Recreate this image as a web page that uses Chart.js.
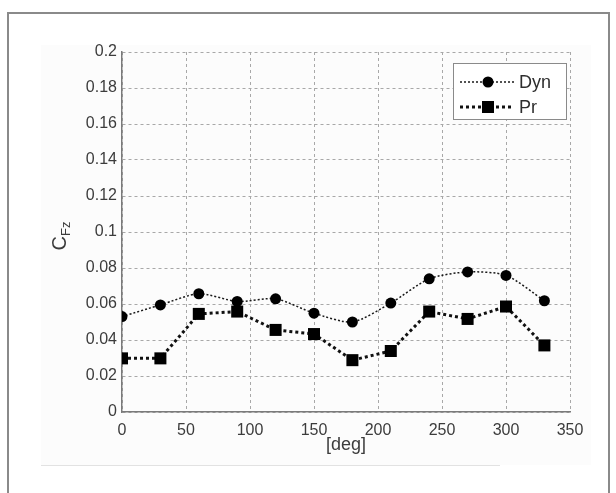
<!DOCTYPE html>
<html><head><meta charset="utf-8">
<script src="https://cdn.jsdelivr.net/npm/chart.js@4/dist/chart.umd.min.js"></script>
<style>html,body{margin:0;padding:0;background:#fff;}canvas{display:block;}</style>
</head><body>
<canvas id="c" width="616" height="493"></canvas>
<script>
const angles = [0, 30, 60, 90, 120, 150, 180, 210, 240, 270, 300, 330];
const dynValues = [0.053, 0.0595, 0.0657, 0.0614, 0.0629, 0.0549, 0.050, 0.0605, 0.074, 0.0778, 0.0759, 0.0618];
const prValues  = [0.0298, 0.0298, 0.0545, 0.0558, 0.0456, 0.0433, 0.0288, 0.0339, 0.0558, 0.0517, 0.0586, 0.037];
const xTicks = [0, 50, 100, 150, 200, 250, 300, 350];
const yTicks = [0, 0.02, 0.04, 0.06, 0.08, 0.1, 0.12, 0.14, 0.16, 0.18, 0.2];
const seriesNames = ['Dyn', 'Pr'];

const FONT = 'Liberation Sans, Arial, sans-serif';
const TXT = '#3c3c3c';

const decor = {
  id: 'decor',
  beforeDraw(chart) {
    const ctx = chart.ctx;
    ctx.save();
    ctx.fillStyle = '#fcfcfc';
    ctx.fillRect(41, 45, 550, 420);
    ctx.strokeStyle = '#e2e2e2';
    ctx.lineWidth = 1;
    ctx.beginPath(); ctx.moveTo(41, 465.5); ctx.lineTo(500, 465.5); ctx.stroke();
    ctx.strokeStyle = '#8a8a8a';
    ctx.lineWidth = 2;
    ctx.beginPath();
    ctx.moveTo(8, 493); ctx.lineTo(8, 13); ctx.lineTo(609, 13); ctx.lineTo(609, 493);
    ctx.stroke();
    ctx.restore();
  },
  afterDraw(chart) {
    const ctx = chart.ctx;
    const a = chart.chartArea;
    ctx.save();
    ctx.fillStyle = TXT;
    ctx.font = '18px ' + FONT;
    ctx.textAlign = 'center';
    ctx.textBaseline = 'middle';
    ctx.fillText('[deg]', (a.left + a.right) / 2, 445);
    ctx.translate(59, 236);
    ctx.rotate(-Math.PI / 2);
    ctx.textAlign = 'left';
    ctx.textBaseline = 'alphabetic';
    ctx.font = '20px ' + FONT;
    const wC = ctx.measureText('C').width;
    const sub = 'Fz';
    ctx.font = '13px ' + FONT;
    const wS = ctx.measureText(sub).width;
    const tot = wC + wS;
    ctx.font = '20px ' + FONT;
    ctx.fillText('C', -tot / 2, 7);
    ctx.font = '13px ' + FONT;
    ctx.fillText(sub, -tot / 2 + wC, 11);
    ctx.setTransform(1, 0, 0, 1, 0, 0);
    const bx = 453.5, by = 63.5, bw = 113, bh = 56;
    ctx.fillStyle = '#ffffff';
    ctx.fillRect(bx, by, bw, bh);
    ctx.strokeStyle = '#8a8a8a';
    ctx.lineWidth = 1;
    ctx.setLineDash([]);
    ctx.strokeRect(bx, by, bw, bh);
    const rows = [82, 107];
    chart.data.datasets.forEach((ds, i) => {
      const y = rows[i];
      ctx.strokeStyle = ds.borderColor;
      ctx.lineWidth = ds.borderWidth;
      ctx.setLineDash(ds.borderDash);
      ctx.beginPath(); ctx.moveTo(460, y); ctx.lineTo(514, y); ctx.stroke();
      ctx.setLineDash([]);
      ctx.fillStyle = ds.pointBackgroundColor;
      if (ds.pointStyle === 'circle') {
        ctx.beginPath(); ctx.arc(488, y, 5.5, 0, Math.PI * 2); ctx.fill();
      } else {
        ctx.fillRect(482, y - 6, 12, 12);
      }
      ctx.fillStyle = '#2e2e2e';
      ctx.font = '18px ' + FONT;
      ctx.textAlign = 'left';
      ctx.textBaseline = 'middle';
      ctx.fillText(ds.label, 519, y + 1);
    });
    ctx.restore();
  }
};

new Chart(document.getElementById('c'), {
  type: 'line',
  data: {
    datasets: [
      {
        label: seriesNames[0],
        data: angles.map((x, i) => ({ x, y: dynValues[i] })),
        borderColor: '#1a1a1a',
        borderWidth: 1.5,
        borderDash: [2, 2],
        pointStyle: 'circle',
        pointRadius: 5.5,
        pointBackgroundColor: '#000',
        pointBorderColor: '#000',
        pointBorderWidth: 0,
        tension: 0.25
      },
      {
        label: seriesNames[1],
        data: angles.map((x, i) => ({ x, y: prValues[i] })),
        borderColor: '#111',
        borderWidth: 3,
        borderDash: [3, 3],
        pointStyle: 'rect',
        pointRadius: 8.5,
        pointBackgroundColor: '#000',
        pointBorderColor: '#000',
        pointBorderWidth: 0,
        tension: 0
      }
    ]
  },
  options: {
    responsive: false,
    animation: false,
    devicePixelRatio: 1,
    layout: { padding: { left: 0, right: 46, top: 52, bottom: 0 } },
    plugins: { legend: { display: false }, tooltip: { enabled: false } },
    scales: {
      x: {
        type: 'linear',
        min: 0, max: 350,
        afterBuildTicks(s) { s.ticks = xTicks.map(v => ({ value: v })); },
        afterFit(s) { s.height = 81; },
        grid: { color: '#a8a8a8', lineWidth: 1, drawTicks: false },
        border: { display: true, color: '#7a7a7a', width: 1.5, dash: [3, 3] },
        ticks: { color: TXT, font: { family: FONT, size: 16 }, padding: 9, maxRotation: 0,
                 callback: v => String(v) }
      },
      y: {
        type: 'linear',
        min: 0, max: 0.2,
        afterBuildTicks(s) { s.ticks = yTicks.map(v => ({ value: v })); },
        afterFit(s) { s.width = 122; },
        grid: { color: '#a8a8a8', lineWidth: 1, drawTicks: false },
        border: { display: true, color: '#7a7a7a', width: 1.5, dash: [3, 3] },
        ticks: { color: TXT, font: { family: FONT, size: 16 }, padding: 5,
                 callback: v => String(+Number(v).toFixed(2)) }
      }
    }
  },
  plugins: [decor]
});
</script>
</body></html>
